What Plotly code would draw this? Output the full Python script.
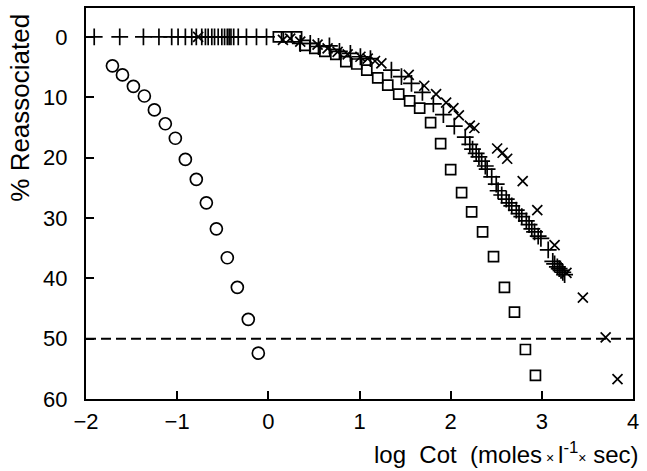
import plotly.graph_objects as go

# Circles series
circ_x = [-1.71, -1.60, -1.48, -1.36, -1.25, -1.13, -1.02, -0.91, -0.79, -0.68, -0.57, -0.45, -0.34, -0.22, -0.11]
circ_y = [4.8, 6.3, 8.2, 9.8, 12.1, 14.4, 16.8, 20.3, 23.6, 27.5, 31.8, 36.6, 41.5, 46.8, 52.4]

# Squares series
sq_x = [0.11, 0.20, 0.31, 0.40, 0.51, 0.62, 0.74, 0.85, 0.97, 1.08, 1.20, 1.31, 1.43, 1.55, 1.66,
        1.78, 1.89, 2.00, 2.12, 2.23, 2.35, 2.47, 2.59, 2.70, 2.82, 2.93]
sq_y = [0.0, 0.0, 0.0, 1.4, 1.9, 2.4, 2.9, 4.1, 4.5, 5.5, 6.8, 8.0, 9.5, 10.6, 11.8,
        14.2, 17.7, 22.0, 25.8, 29.0, 32.3, 36.4, 41.5, 45.6, 51.8, 56.1]

# Plus series
plus_x = [-1.91, -1.63, -1.37, -1.20, -1.06, -0.99, -0.91, -0.84, -0.79, -0.73, -0.69, -0.66, -0.62,
          -0.59, -0.55, -0.51, -0.48, -0.45, -0.43, -0.41, -0.38, -0.33, -0.24, -0.13, -0.02,
          0.35, 0.46, 0.55, 0.67, 0.78, 0.90, 1.01, 1.12, 1.35, 1.46, 1.57, 1.69, 1.81, 1.92,
          2.04, 2.16, 2.21, 2.24, 2.28, 2.31, 2.34, 2.38, 2.40, 2.45, 2.50, 2.52, 2.56, 2.61,
          2.64, 2.67, 2.72, 2.75, 2.78, 2.83, 2.86, 2.89, 2.92, 2.96, 2.99, 3.07, 3.12, 3.14,
          3.17, 3.19, 3.21, 3.23, 3.25]
plus_y = [0, 0, 0, 0, 0, 0, 0, 0, 0, 0, 0, 0, 0,
          0, 0, 0, 0, 0, 0, 0, 0, 0, 0, 0, 0,
          1.1, 1.1, 1.6, 1.5, 2.4, 2.75, 3.3, 3.6, 5.5, 6.6, 7.7, 9.2, 11.1, 12.9,
          14.8, 16.6, 17.8, 18.6, 19.3, 19.9, 20.6, 21.4, 21.9, 23.2, 24.4, 25.5, 26.2, 26.9,
          27.5, 28.0, 28.7, 29.3, 29.8, 30.5, 31.1, 31.8, 32.3, 33.0, 33.4, 35.3, 37.2, 37.6,
          38.1, 38.4, 38.7, 39.0, 39.4]

# Cross (x) series
xm_x = [-0.77, 0.16, 0.24, 0.35, 0.54, 0.65, 0.76, 0.87, 1.01, 1.09, 1.17, 1.24, 1.54, 1.71,
        1.84, 1.95, 2.03, 2.09, 2.21, 2.26, 2.51, 2.57, 2.62, 2.79, 2.95, 3.14, 3.27, 3.45,
        3.70, 3.83]
xm_y = [0.0, 0.5, 0.3, 0.8, 1.3, 1.9, 2.5, 2.9, 3.3, 3.6, 4.0, 4.4, 6.3, 8.1,
        9.5, 10.9, 11.8, 13.0, 14.7, 15.1, 18.5, 19.2, 20.2, 23.9, 28.7, 34.5, 39.1, 43.2,
        49.8, 56.7]

ref_x = [-2, 4]
ref_y = [50, 50]

x_ticks = [-2, -1, 0, 1, 2, 3, 4]
y_ticks = [0, 10, 20, 30, 40, 50, 60]

FONT = "Liberation Sans"

fig = go.Figure()
fig.add_trace(go.Scatter(x=ref_x, y=ref_y, mode="lines",
                         line=dict(color="black", width=2, dash="10px,5px"),
                         hoverinfo="skip", showlegend=False))
fig.add_trace(go.Scatter(x=circ_x, y=circ_y, mode="markers",
                         marker=dict(symbol="circle-open", size=12, color="black",
                                     line=dict(width=1.7, color="black")), showlegend=False))
fig.add_trace(go.Scatter(x=sq_x, y=sq_y, mode="markers",
                         marker=dict(symbol="square-open", size=10, color="black",
                                     line=dict(width=1.7, color="black")), showlegend=False))
fig.add_trace(go.Scatter(x=plus_x, y=plus_y, mode="markers",
                         marker=dict(symbol="cross-thin-open", size=12, color="black",
                                     line=dict(width=1.7, color="black")), showlegend=False))
fig.add_trace(go.Scatter(x=xm_x, y=xm_y, mode="markers",
                         marker=dict(symbol="x-thin-open", size=10, color="black",
                                     line=dict(width=1.7, color="black")), showlegend=False))

fig.update_layout(
    width=647, height=471,
    margin=dict(l=86, r=14, t=6, b=72),
    paper_bgcolor="white", plot_bgcolor="white",
    font=dict(family=FONT, size=22, color="black"),
    showlegend=False,
)
fig.update_xaxes(range=[-2, 4], tickvals=x_ticks, ticktext=[str(v).replace("-", "\u2212") for v in x_ticks],
                 showgrid=False, zeroline=False, showline=True, linewidth=2, linecolor="black",
                 mirror=True, ticks="inside", ticklen=8, tickwidth=2, tickcolor="black",
                 tickfont=dict(size=22, family=FONT), ticklabelstandoff=2)
fig.update_yaxes(range=[60, -4.78], tickvals=y_ticks, ticktext=[str(v) for v in y_ticks],
                 showgrid=False, zeroline=False, showline=True, linewidth=2, linecolor="black",
                 mirror=True, ticks="inside", ticklen=8, tickwidth=2, tickcolor="black",
                 tickfont=dict(size=22, family=FONT), ticklabelstandoff=12)

fig.add_annotation(text="% Reassociated", xref="paper", yref="paper", x=0, y=0.745,
                   xshift=-66, xanchor="center", yanchor="middle", textangle=-90,
                   showarrow=False, font=dict(size=26, family=FONT))
fig.add_annotation(text="log  Cot  (moles<span style='font-size:14px'> × </span>l<sup>-1</sup><span style='font-size:14px'>×</span> sec)",
                   xref="paper", yref="paper", x=1, y=0, xshift=8, yshift=-37,
                   xanchor="right", yanchor="top", showarrow=False,
                   font=dict(size=24, family=FONT))

fig.write_html("out.html")
